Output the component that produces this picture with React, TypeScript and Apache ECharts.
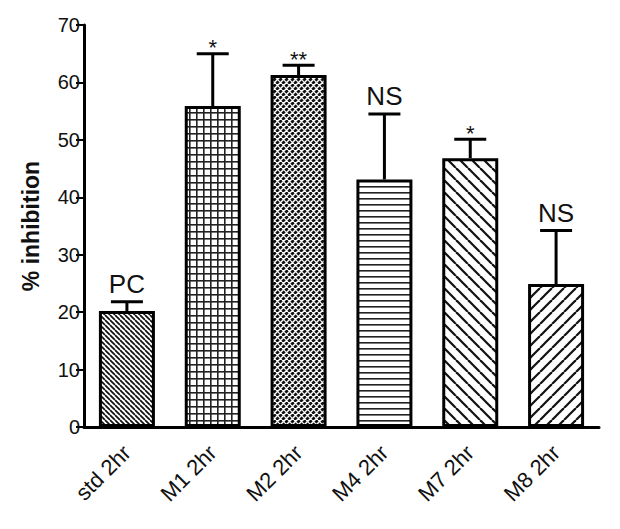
import React, { useEffect, useRef } from "react";
import * as echarts from "echarts";

const categories = ["std 2hr", "M1 2hr", "M2 2hr", "M4 2hr", "M7 2hr", "M8 2hr"];
const means = [20.2, 55.9, 61.3, 43.1, 46.8, 24.9];
const errors = [1.6, 9.1, 1.7, 11.4, 3.3, 9.3];
const sigLabels = ["PC", "*", "**", "NS", "*", "NS"];
const patternKinds = ["fineBack", "grid", "weave", "hlines", "wideBack", "wideFwd"];
const yMin = 0;
const yMax = 70;
const yInterval = 10;

function makeTile(kind: string) {
  const sizes: Record<string, number> = {
    fineBack: 5,
    grid: 7,
    weave: 6,
    hlines: 6,
    wideBack: 12,
    wideFwd: 12,
  };
  const p = sizes[kind];
  const c = document.createElement("canvas");
  c.width = p;
  c.height = p;
  const ctx = c.getContext("2d")!;
  ctx.fillStyle = "#fff";
  ctx.fillRect(0, 0, p, p);
  const diag = (back: boolean, w: number, color: string) => {
    ctx.strokeStyle = color;
    ctx.lineWidth = w;
    for (const o of [-p, 0, p]) {
      ctx.beginPath();
      if (back) {
        ctx.moveTo(o, 0);
        ctx.lineTo(o + p, p);
      } else {
        ctx.moveTo(o, p);
        ctx.lineTo(o + p, 0);
      }
      ctx.stroke();
    }
  };
  if (kind === "fineBack") diag(true, 1.7, "#111");
  if (kind === "wideBack") diag(true, 2.2, "#111");
  if (kind === "wideFwd") diag(false, 2.2, "#111");
  if (kind === "grid") {
    ctx.fillStyle = "#222";
    ctx.fillRect(0, 0, p, 1.6);
    ctx.fillRect(0, 0, 1.6, p);
  }
  if (kind === "hlines") {
    ctx.fillStyle = "#222";
    ctx.fillRect(0, 0, p, 1.6);
  }
  if (kind === "weave") {
    diag(false, 2.8, "#111");
    diag(true, 1.1, "#fff");
  }
  return { image: c, repeat: "repeat", imageWidth: p, imageHeight: p } as any;
}

export default function App() {
  const ref = useRef<HTMLDivElement>(null);
  useEffect(() => {
    const chart = echarts.init(ref.current!, undefined, { renderer: "svg" });
    const textColor = "#111";
    const font = "Liberation Sans, Arial, sans-serif";
    const barData = means.map((v, i) => ({
      value: v,
      itemStyle: {
        color: makeTile(patternKinds[i]),
        borderColor: "#000",
        borderWidth: 3,
      },
    }));
    const errData = means.map((v, i) => [i, v, errors[i]]);
    chart.setOption({
      animation: false,
      grid: { left: 84, right: 21, top: 25, bottom: 102 },
      xAxis: {
        type: "category",
        data: categories,
        axisLine: { lineStyle: { color: "#000", width: 3 } },
        axisTick: { alignWithLabel: true, length: 10, lineStyle: { color: "#000", width: 2 } },
        axisLabel: {
          rotate: 45,
          fontSize: 22,
          fontFamily: font,
          color: textColor,
          margin: 22,
        },
      },
      yAxis: {
        type: "value",
        min: yMin,
        max: yMax,
        interval: yInterval,
        name: "% inhibition",
        nameLocation: "middle",
        nameGap: 42,
        nameTextStyle: { fontSize: 23, fontWeight: "bold", fontFamily: font, color: textColor },
        splitLine: { show: false },
        axisLine: { show: true, lineStyle: { color: "#000", width: 3 } },
        axisTick: { show: true, length: 8, lineStyle: { color: "#000", width: 2 } },
        axisLabel: { fontSize: 20, fontFamily: font, color: textColor, margin: 4 },
      },
      series: [
        {
          type: "bar",
          data: barData,
          barWidth: 56,
          z: 2,
        },
        {
          type: "custom",
          data: errData,
          z: 3,
          renderItem: (params: any, api: any) => {
            const i = api.value(0);
            const m = api.value(1);
            const e = api.value(2);
            const base = api.coord([i, m]);
            const top = api.coord([i, m + e]);
            const half = 16;
            const lbl = sigLabels[i];
            const isStar = lbl.indexOf("*") >= 0;
            return {
              type: "group",
              children: [
                {
                  type: "line",
                  shape: { x1: base[0], y1: base[1], x2: top[0], y2: top[1] },
                  style: { stroke: "#000", lineWidth: 3 },
                },
                {
                  type: "line",
                  shape: { x1: top[0] - half, y1: top[1], x2: top[0] + half, y2: top[1] },
                  style: { stroke: "#000", lineWidth: 3 },
                },
                {
                  type: "text",
                  x: top[0],
                  y: isStar ? top[1] + 5 : top[1] - 5,
                  style: {
                    text: lbl,
                    fontSize: isStar ? 22 : 26,
                    fontFamily: font,
                    fill: textColor,
                    textAlign: "center",
                    textVerticalAlign: "bottom",
                  },
                },
              ],
            };
          },
        },
      ],
    });
    return () => chart.dispose();
  }, []);
  return (
    <div
      ref={ref}
      style={{ position: "absolute", left: 0, top: 0, width: 620, height: 529 }}
    />
  );
}
